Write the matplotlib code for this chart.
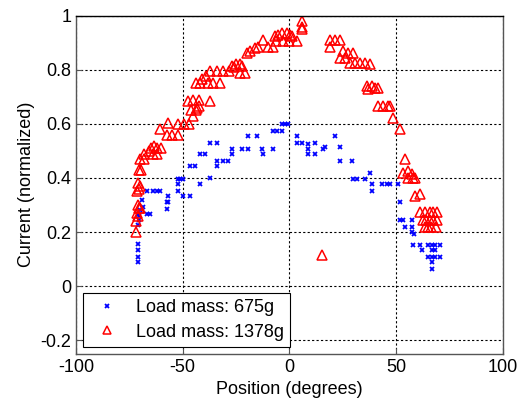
import matplotlib.pyplot as plt
import numpy as np

# load mass 675 g (blue crosses)
pos_675 = [-71, -71, -71, -71, -71, -70.5, -70.5,
           -69.3, -68.6, -71, -66.9, -65.4, -70,
           -66.9, -63.8, -62.2, -60.7,
           -56.8, -57.5, -56.8, -57.5,
           -52, -51.3, -49.8, -52, -52, -49.8, -46.6,
           -46.6, -44.3, -42,
           -42, -39.7,
           -37.3, -34,
           -34, -34, -31, -28.7,
           -37.3,
           -27, -27, -22.4, -19.4,
           -19.3, -15.4,
           -13, -12.3, -7.6,
           -7.6, -6, -3.7,
           -3.7, -2.1, -0.6,
           3.4, 3.4, 5.7, 8.8, 12, 8.8, 12, 8.8, 15.8,
           16.6, 23.7, 23.7, 29.1,
           21.3,
           29.9, 31.5, 35.4, 37.7, 38.5, 38.5, 43.2, 45.5, 47.1, 51,
           51.8,
           51.8, 53.3, 57.3, 54.1, 57.3, 57.3, 58.5,
           58, 61.2, 61.9, 65, 66.6, 68.2, 70.5, 66.6, 68.2,
           65, 66.6, 68.2, 70.5, 67, 67]
cur_675 = [0.09, 0.108, 0.133, 0.157, 0.225, 0.243, 0.26,
           0.317, 0.292, 0.268, 0.268, 0.268, 0.28,
           0.353, 0.353, 0.353, 0.353,
           0.335, 0.31, 0.31, 0.286,
           0.397, 0.397, 0.397, 0.378, 0.353, 0.335, 0.335,
           0.446, 0.446, 0.378,
           0.489, 0.489,
           0.53, 0.53,
           0.464, 0.446, 0.464, 0.464,
           0.40,
           0.507, 0.489, 0.507, 0.507,
           0.556, 0.556,
           0.507, 0.489, 0.507,
           0.575, 0.575, 0.575,
           0.60, 0.60, 0.60,
           0.556, 0.53, 0.53, 0.525, 0.53, 0.507, 0.489, 0.489, 0.507,
           0.513, 0.513, 0.464, 0.464,
           0.556,
           0.397, 0.397, 0.397, 0.42, 0.378, 0.353, 0.378, 0.378, 0.378, 0.378,
           0.31,
           0.243, 0.243, 0.243, 0.218, 0.218, 0.20, 0.194,
           0.151, 0.151, 0.133, 0.151, 0.151, 0.151, 0.151, 0.133, 0.133,
           0.108, 0.108, 0.108, 0.108, 0.09, 0.065]

# load mass 1378 g (red triangles)
pos_1378 = [-72, -72, -71, -71.5, -70.5, -71, -70,
            -71.5, -70.5, -70, -71,
            -70.5, -69.5,
            -70, -68,
            -68, -66, -65, -63.5, -62, -60, -62, -64,
            -60.5, -57, -52, -49.5, -47, -57.5, -55, -52,
            -45, -46, -44, -43.5, -42.5,
            -47.5, -45, -42.5, -37,
            -44, -42, -38, -36, -32.5,
            -41, -39, -37, -34, -31, -28.5, -26,
            -27, -25, -23, -22, -23, -21,
            -20, -18.5, -16, -14.7, -12.4, -10, -7.7,
            -6.8, -5.4, -3.5, -1.2, 0.2, 1,
            -6.3, -3, 0, 3.5,
            5.7, 5.7, 5.7,
            19, 21.3, 23.7, 19,
            25.2, 27.4, 29.8, 23.7, 26, 28.3, 30.7, 33, 35.4, 37.7,
            36.2, 38.5, 37, 40, 41.6,
            41.6, 43.8, 46.2, 47,
            48.6, 51.8,
            54.1, 53.3, 55.7, 57.3, 55.7, 57.9, 58.8,
            58.8, 61.2,
            61.2, 63.5, 65.8, 67.3, 69,
            62.7, 64, 65.8, 67.5, 69,
            63.5, 65, 66.5, 68.5,
            15.1]
cur_1378 = [0.20, 0.24, 0.26, 0.27, 0.29, 0.30, 0.29,
            0.35, 0.36, 0.37, 0.38,
            0.43, 0.43,
            0.47, 0.47,
            0.49, 0.50, 0.51, 0.52, 0.51, 0.51, 0.49, 0.49,
            0.58, 0.605, 0.60, 0.60, 0.60, 0.56, 0.56, 0.56,
            0.63, 0.65, 0.65, 0.66, 0.665,
            0.685, 0.69, 0.69, 0.685,
            0.75, 0.75, 0.75, 0.75, 0.75,
            0.766, 0.777, 0.795, 0.795, 0.795, 0.795, 0.81,
            0.815, 0.82, 0.82, 0.815, 0.79, 0.79,
            0.863, 0.87, 0.88, 0.885, 0.91, 0.885, 0.885,
            0.925, 0.93, 0.937, 0.937, 0.93, 0.925,
            0.906, 0.906, 0.906, 0.906,
            0.98, 0.96, 0.95,
            0.91, 0.91, 0.91, 0.885,
            0.87, 0.863, 0.863, 0.845, 0.845, 0.826, 0.826, 0.826, 0.826, 0.82,
            0.74, 0.74, 0.728, 0.734, 0.734,
            0.667, 0.667, 0.667, 0.667,
            0.623, 0.58,
            0.47, 0.42, 0.427, 0.415, 0.40, 0.40, 0.40,
            0.335, 0.34,
            0.274, 0.274, 0.274, 0.274, 0.274,
            0.243, 0.243, 0.243, 0.243, 0.243,
            0.218, 0.218, 0.218, 0.218,
            0.114]

plt.rcParams['font.family'] = ['Liberation Sans', 'DejaVu Sans']
plt.rcParams['axes.unicode_minus'] = False

fig = plt.figure(figsize=(5.26, 4.03), dpi=100)
ax = fig.add_axes([0.1445, 0.1223, 0.8115, 0.8387])

ax.plot(pos_675, cur_675, 'x', color='blue', ms=3.5, mew=1.3, label='Load mass: 675g')
ax.plot(pos_1378, cur_1378, '^', color='red', mfc='none', ms=6.8, mew=1.1,
        label='Load mass: 1378g')

ax.set_xlim(-100, 100)
ax.set_ylim(-0.25, 1)
ax.set_xticks([-100, -50, 0, 50, 100])
ax.set_yticks([-0.2, 0, 0.2, 0.4, 0.6, 0.8, 1])
ax.set_yticklabels(['-0.2', '0', '0.2', '0.4', '0.6', '0.8', '1'])
ax.grid(True, color='black', linestyle=(0, (2, 2)), linewidth=0.8)
ax.tick_params(direction='in', labelsize=13, length=4, color='#555555')
for s in ax.spines.values():
    s.set_color('#555555')
    s.set_linewidth(1.0)
ax.spines['top'].set_color('black')

ax.set_xlabel('Position (degrees)', fontsize=13)
ax.set_ylabel('Current (normalized)', fontsize=13)

leg = ax.legend(loc='lower left', bbox_to_anchor=(0.016, 0.02), borderaxespad=0,
                fontsize=13, fancybox=False, framealpha=1, edgecolor='black',
                handletextpad=0.6, borderpad=0.35, labelspacing=0.4, markerscale=0.8)
leg.get_frame().set_linewidth(0.8)

plt.savefig('out.png', dpi=100)
